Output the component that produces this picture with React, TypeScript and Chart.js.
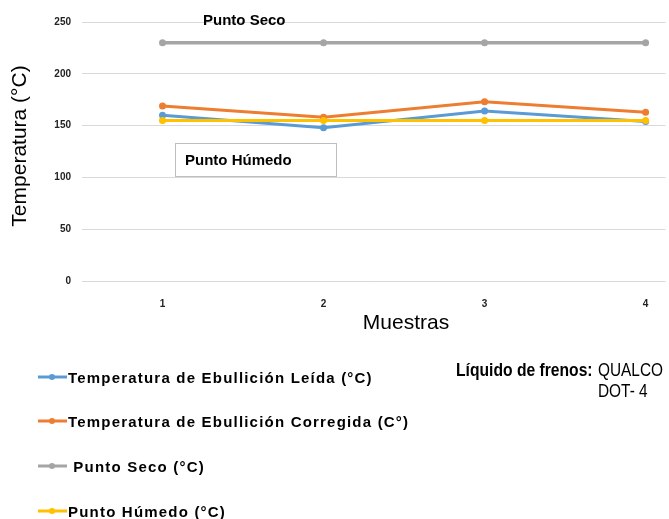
import React, { useEffect, useRef } from "react";
import { Chart, registerables } from "chart.js";

Chart.register(...registerables);

// ---- Data ----
const categories = ["1", "2", "3", "4"];
const leida = [160, 148, 164, 154];
const corregida = [169, 158, 173, 163];
const puntoSeco = [230, 230, 230, 230];
const puntoHumedo = [155, 155, 155, 155];
const yTicks = [0, 50, 100, 150, 200, 250];
const seriesLabels = [
  "Temperatura de Ebullición Leída (°C)",
  "Temperatura de Ebullición Corregida (C°)",
  " Punto Seco (°C)",
  "Punto Húmedo (°C)",
];
const seriesColors = ["#5b9bd5", "#ed7d31", "#a5a5a5", "#ffc000"];
const xTitle = "Muestras";
const yTitle = "Temperatura (°C)";
const noteSeco = "Punto Seco";
const noteHumedo = "Punto Húmedo";
const noteBold = "Líquido de frenos:";
const noteBrand = "QUALCO";
const noteDot = "DOT- 4";

const W = 669;
const H = 519;
const SANS = '"Liberation Sans", Arial, sans-serif';

const toPoints = (vals: number[]) => categories.map((_, i) => ({ x: i + 1, y: vals[i] }));

const overlayPlugin = {
  id: "overlay",
  afterDraw(chart: any) {
    const ctx = chart.ctx as CanvasRenderingContext2D;
    ctx.save();
    ctx.fillStyle = "#000";

    // Y title
    ctx.save();
    ctx.translate(20, 146);
    ctx.rotate(-Math.PI / 2);
    ctx.font = `21px ${SANS}`;
    ctx.textAlign = "center";
    ctx.textBaseline = "middle";
    ctx.fillText(yTitle, 0, 0);
    ctx.restore();

    // X title
    ctx.font = `21px ${SANS}`;
    ctx.textAlign = "center";
    ctx.textBaseline = "middle";
    ctx.fillText(xTitle, 406, 323);

    // Punto Seco note
    ctx.textAlign = "left";
    ctx.textBaseline = "alphabetic";
    ctx.font = `bold 15px ${SANS}`;
    ctx.fillText(noteSeco, 203, 25);

    // Punto Húmedo box
    ctx.fillStyle = "#fff";
    ctx.fillRect(175.5, 143.5, 161, 33);
    ctx.strokeStyle = "#bfbfbf";
    ctx.lineWidth = 1;
    ctx.strokeRect(175.5, 143.5, 161, 33);
    ctx.fillStyle = "#000";
    ctx.font = `bold 15px ${SANS}`;
    ctx.fillText(noteHumedo, 185, 165);

    // Brake fluid note (condensed look via horizontal scale)
    ctx.save();
    ctx.translate(456, 376);
    ctx.scale(0.87, 1);
    ctx.font = `bold 18px ${SANS}`;
    ctx.fillText(noteBold, 0, 0);
    ctx.restore();
    ctx.save();
    ctx.translate(598, 376);
    ctx.scale(0.855, 1);
    ctx.font = `18px ${SANS}`;
    ctx.fillText(noteBrand, 0, 0);
    ctx.restore();
    ctx.save();
    ctx.translate(598, 397);
    ctx.scale(0.855, 1);
    ctx.font = `18px ${SANS}`;
    ctx.fillText(noteDot, 0, 0);
    ctx.restore();

    // Legend
    const ys = [377, 421, 466, 511];
    chart.data.datasets.forEach((ds: any, i: number) => {
      const y = ys[i];
      ctx.strokeStyle = ds.borderColor;
      ctx.lineWidth = 3;
      ctx.beginPath();
      ctx.moveTo(38, y);
      ctx.lineTo(67, y);
      ctx.stroke();
      ctx.fillStyle = ds.borderColor;
      ctx.beginPath();
      ctx.arc(52, y, 3, 0, Math.PI * 2);
      ctx.fill();
      ctx.fillStyle = "#000";
      ctx.font = `bold 15px ${SANS}`;
      (ctx as any).letterSpacing = "1.2px";
      ctx.textBaseline = "alphabetic";
      ctx.fillText(ds.label, 68, y + 6);
      (ctx as any).letterSpacing = "0px";
    });
    ctx.restore();
  },
};

export default function App() {
  const ref = useRef<HTMLCanvasElement>(null);
  useEffect(() => {
    if (!ref.current) return;
    const datasets = [leida, corregida, puntoSeco, puntoHumedo].map((vals, i) => ({
      label: seriesLabels[i],
      data: toPoints(vals),
      borderColor: seriesColors[i],
      backgroundColor: seriesColors[i],
      borderWidth: i === 2 ? 3.5 : 3,
      pointRadius: 3.5,
      pointHoverRadius: 3.5,
      pointBorderWidth: 0,
      order: 4 - i,
      tension: 0,
    }));
    const chart = new Chart(ref.current, {
      type: "line",
      data: { datasets },
      options: {
        responsive: false,
        animation: false,
        layout: { padding: { top: 22, right: 0, bottom: 0, left: 0 } },
        plugins: { legend: { display: false }, tooltip: { enabled: false } },
        scales: {
          x: {
            type: "linear",
            min: 0.5,
            max: 4.1235,
            afterBuildTicks: (s: any) => {
              s.ticks = categories.map((_, i) => ({ value: i + 1 }));
            },
            afterFit: (s: any) => {
              s.height = H - 281;
            },
            grid: { display: false },
            border: { display: false },
            ticks: {
              padding: 9,
              color: "#222",
              font: { family: SANS, size: 10, weight: "bold" },
              callback: (v: any) => categories[Number(v) - 1],
              maxRotation: 0,
              autoSkip: false,
            },
          },
          y: {
            min: 0,
            max: 250,
            afterBuildTicks: (s: any) => {
              s.ticks = yTicks.map((v) => ({ value: v }));
            },
            afterFit: (s: any) => {
              s.width = 82;
            },
            grid: { color: "#d9d9d9", drawTicks: false, lineWidth: 1 },
            border: { display: false },
            ticks: {
              padding: 11,
              color: "#222",
              font: { family: SANS, size: 10, weight: "bold" },
            },
          },
        },
      },
      plugins: [overlayPlugin],
    } as any);
    return () => chart.destroy();
  }, []);
  return (
    <div style={{ position: "fixed", left: 0, top: 0, width: W, height: H, background: "#fff", overflow: "hidden" }}>
      <canvas ref={ref} width={W} height={H} style={{ display: "block" }} />
    </div>
  );
}
